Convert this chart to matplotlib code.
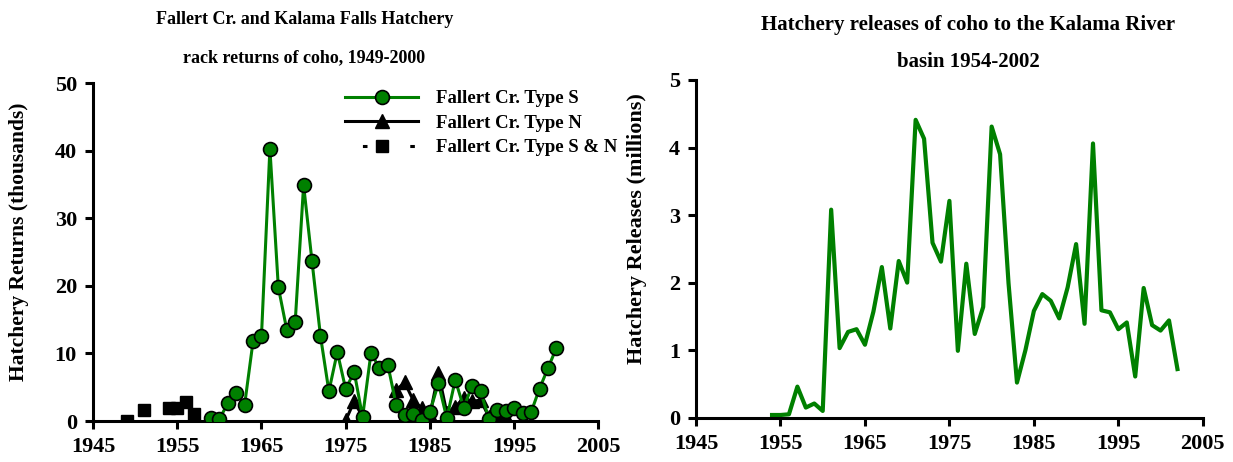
import matplotlib
matplotlib.use("Agg")
import matplotlib.pyplot as plt
from matplotlib.lines import Line2D

plt.rcParams['font.family'] = ['Liberation Serif', 'DejaVu Serif']
plt.rcParams['font.weight'] = 'bold'

# left panel: rack returns (thousands)
years_s = list(range(1959, 2001))
type_s = [0.45, 0.3, 2.6, 4.2, 2.4, 11.8, 12.6, 40.3, 19.8, 13.5, 14.6, 34.9,
          23.6, 12.6, 4.4, 10.2, 4.7, 7.3, 0.6, 10.1, 7.8, 8.3, 2.3, 0.9, 1.1,
          0.2, 1.4, 5.6, 0.4, 6.1, 2.0, 5.2, 4.4, 0.3, 1.6, 1.5, 2.0, 1.2, 1.3,
          4.8, 7.8, 10.8]
years_n = [1975, 1976, 1977, None, 1981, 1982, 1983, 1984, 1985, 1986, 1987,
           1988, 1989, 1990, 1991, 1992, 1993, 1994]
type_n = [0.1, 2.9, 0.6, None, 4.6, 5.7, 3.1, 1.9, 0.9, 7.1, 1.2, 2.1, 3.4,
          2.9, 3.1, 0.6, 0.4, 0.6]
years_sn = [1949, 1951, 1954, 1955, 1956, 1957]
type_sn = [0.0, 1.6, 2.0, 1.9, 2.8, 1.0]

# right panel: releases (millions)
years_rel = list(range(1954, 2003))
releases = [0.04, 0.04, 0.05, 0.46, 0.15, 0.21, 0.10, 3.08, 1.03, 1.27, 1.31,
            1.08, 1.57, 2.23, 1.32, 2.32, 2.00, 4.41, 4.13, 2.59, 2.31, 3.21,
            0.99, 2.28, 1.24, 1.64, 4.31, 3.90, 1.99, 0.52, 1.00, 1.58, 1.83,
            1.73, 1.47, 1.93, 2.57, 1.39, 4.06, 1.59, 1.56, 1.31, 1.41, 0.61,
            1.92, 1.37, 1.29, 1.44, 0.72]

green = '#008000'
xticks = [1945, 1955, 1965, 1975, 1985, 1995, 2005]

fig = plt.figure(figsize=(12.33, 4.62), dpi=100)
ax1 = fig.add_axes([0.0754, 0.0887, 0.410, 0.7316])
ax2 = fig.add_axes([0.5645, 0.0959, 0.411, 0.731])


def style(ax):
    for s in ['top', 'right']:
        ax.spines[s].set_visible(False)
    for s in ['left', 'bottom']:
        ax.spines[s].set_linewidth(2.2)
    ax.tick_params(direction='out', length=5.5, width=2.2, labelsize=16, pad=6)
    ax.set_xlim(1945, 2005)
    ax.set_xticks(xticks)
    for lab in ax.get_xticklabels() + ax.get_yticklabels():
        lab.set_fontweight('bold')


# left
n_x = [y if y is not None else float('nan') for y in years_n]
n_y = [v if v is not None else float('nan') for v in type_n]
ax1.plot(n_x, n_y, color='black', lw=2.2, marker='^', ms=10, mfc='black',
         mec='black', zorder=3)
ax1.plot(years_s, type_s, color=green, lw=2.2, marker='o', ms=10, mfc=green,
         mec='black', mew=1.2, zorder=4)
ax1.plot(years_sn, type_sn, ls='none', marker='s', ms=9, color='black', zorder=3)
ax1.set_ylim(0, 50)
ax1.set_yticks([0, 10, 20, 30, 40, 50])
style(ax1)
ax1.set_ylabel('Hatchery Returns (thousands)', fontsize=15.5, fontweight='bold')
ax1.yaxis.set_label_coords(-0.126, 0.53)

# legend: square series drawn as sparse dots in the key
handles = [
    Line2D([], [], color=green, lw=2.2, marker='o', ms=10, mfc=green, mec='black', mew=1.2),
    Line2D([], [], color='black', lw=2.2, marker='^', ms=10),
    Line2D([], [], color='black', lw=2.2, ls=(9.8, (1.5, 14)), marker='s', ms=9),
]
labels = ['Fallert Cr. Type S', 'Fallert Cr. Type N', 'Fallert Cr. Type S & N']
fig.legend(handles, labels, loc='upper left', bbox_to_anchor=(0.2664, 0.8415),
           frameon=False, prop={'size': 13.5, 'weight': 'bold'},
           handlelength=3.9, labelspacing=0.4, handletextpad=0.95)

fig.text(0.247, 0.957, 'Fallert Cr. and Kalama Falls Hatchery', ha='center',
         va='center', fontsize=13, fontweight='bold')
fig.text(0.247, 0.874, 'rack returns of coho, 1949-2000', ha='center',
         va='center', fontsize=13, fontweight='bold')

# right
ax2.plot(years_rel, releases, color=green, lw=3)
ax2.set_ylim(0, 5)
ax2.set_yticks([0, 1, 2, 3, 4, 5])
style(ax2)
ax2.set_ylabel('Hatchery Releases (millions)', fontsize=16, fontweight='bold')
ax2.yaxis.set_label_coords(-0.096, 0.56)

fig.text(0.785, 0.946, 'Hatchery releases of coho to the Kalama River',
         ha='center', va='center', fontsize=15, fontweight='bold')
fig.text(0.785, 0.866, 'basin 1954-2002', ha='center', va='center',
         fontsize=15, fontweight='bold')

fig.savefig('out.png', dpi=100)
